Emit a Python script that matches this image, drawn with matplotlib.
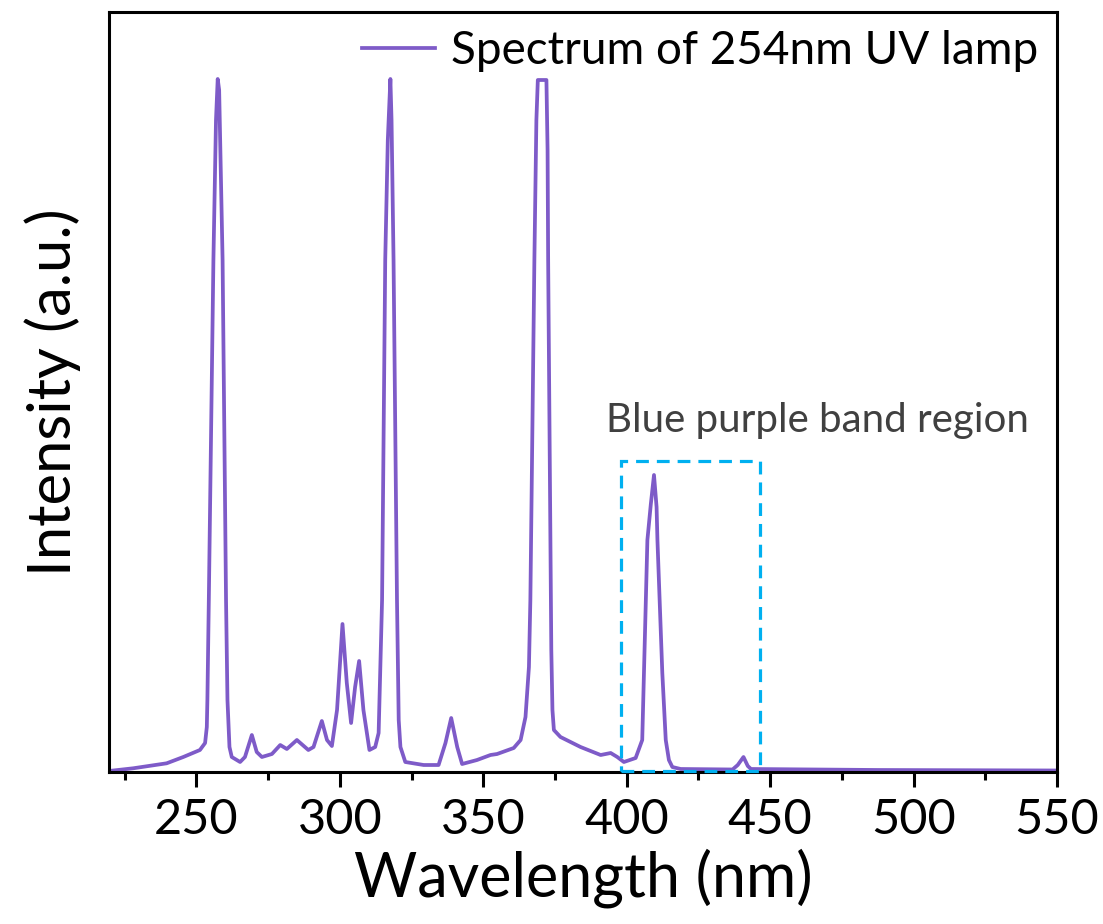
import matplotlib
matplotlib.use("Agg")
import matplotlib.pyplot as plt
from matplotlib.patches import Rectangle
from matplotlib.ticker import MultipleLocator

plt.rcParams["font.family"] = ["Lato", "DejaVu Sans"]

# spectrum (wavelength in nm, intensity in a.u.)
wavelength = [
    219.5, 227.9, 239.6, 245.4, 251.2, 253.0, 253.6, 253.8, 254.3, 255.9,
    256.8, 257.4, 257.9, 259.1, 260.3, 260.8, 261.5, 262.3, 265.2, 266.9,
    269.3, 271.0, 272.8, 276.3, 279.2, 281.5, 285.0, 289.0, 290.8, 293.7,
    295.5, 297.2, 299.0, 300.9, 302.4, 303.9, 305.3, 306.7, 308.2, 310.3,
    312.3, 313.5, 314.7, 315.8, 316.7, 317.6, 318.0, 318.7, 319.9, 320.5,
    321.1, 322.8, 329.2, 334.4, 336.8, 338.8, 340.9, 342.6, 347.8, 352.5,
    354.8, 360.6, 363.0, 364.7, 365.9, 366.4, 367.8, 368.5, 369.0, 372.0,
    372.4, 372.6, 373.7, 374.1, 374.6, 376.9, 383.9, 390.9, 394.4, 396.7,
    399.0, 403.1, 405.4, 406.0, 407.2, 408.4, 409.5, 410.4, 410.7, 412.4,
    413.6, 414.7, 415.9, 418.8, 436.9, 438.7, 440.7, 442.2, 443.3, 487.6,
    550.0,
]
intensity = [
    1, 3.7, 8.7, 15, 22, 29, 45, 72, 172, 512,
    652, 693, 682, 512, 172, 72, 25, 15, 10, 15,
    37, 20, 15, 18, 27, 23, 32, 22, 25, 51,
    32, 26, 62, 148, 89, 49, 85, 111, 62, 22,
    25, 39, 172, 512, 632, 693, 652, 512, 172, 52,
    25, 10, 7, 7, 29, 54, 25, 8, 12, 17,
    18, 24, 32, 55, 105, 172, 512, 652, 692, 692,
    622, 512, 122, 62, 42, 35, 25, 17, 19, 15,
    10, 14, 32, 99, 232, 268, 297, 265, 232, 99,
    32, 12, 5, 3, 2.5, 7, 15, 6, 3, 2,
    1.5,
]

# highlighted band (nm, a.u.)
band_start, band_end = 398.1, 446.5
band_top = 311

x_ticks = [250, 300, 350, 400, 450, 500, 550]

fig = plt.figure(figsize=(11.03, 9.24), dpi=100)
ax = fig.add_axes([109 / 1103, 1 - 772 / 924, 948 / 1103, 760 / 924])

ax.plot(wavelength, intensity, color="#7E5BC8", lw=2.7,
        solid_joinstyle="round", label="Spectrum of 254nm UV lamp")

box = Rectangle((band_start, 1), band_end - band_start, band_top - 1,
                fill=False, edgecolor="#00B0F0", lw=2.3,
                linestyle=(0, (4, 2.5)), zorder=3, clip_on=False)
ax.add_patch(box)
ax.text(392.6, 340, "Blue purple band region", fontsize=29,
        color="#404040", ha="left", va="baseline")

ax.set_xlim(219.5, 550)
ax.set_ylim(0, 760)
ax.set_xticks(x_ticks)
ax.xaxis.set_minor_locator(MultipleLocator(25))
ax.set_yticks([])
ax.tick_params(axis="x", which="major", direction="out", length=11,
               width=2.2, labelsize=35, pad=8)
ax.tick_params(axis="x", which="minor", direction="out", length=6, width=2.2)
for sp in ax.spines.values():
    sp.set_linewidth(2.2)

ax.set_xlabel("Wavelength (nm)", fontsize=44, labelpad=4)
ax.set_ylabel("Intensity (a.u.)", fontsize=43, labelpad=20)

ax.legend(loc="upper right", frameon=False, fontsize=33, handlelength=1.6,
          handletextpad=0.35, borderaxespad=0.2, borderpad=0.2)

fig.savefig("out.png", dpi=100)
